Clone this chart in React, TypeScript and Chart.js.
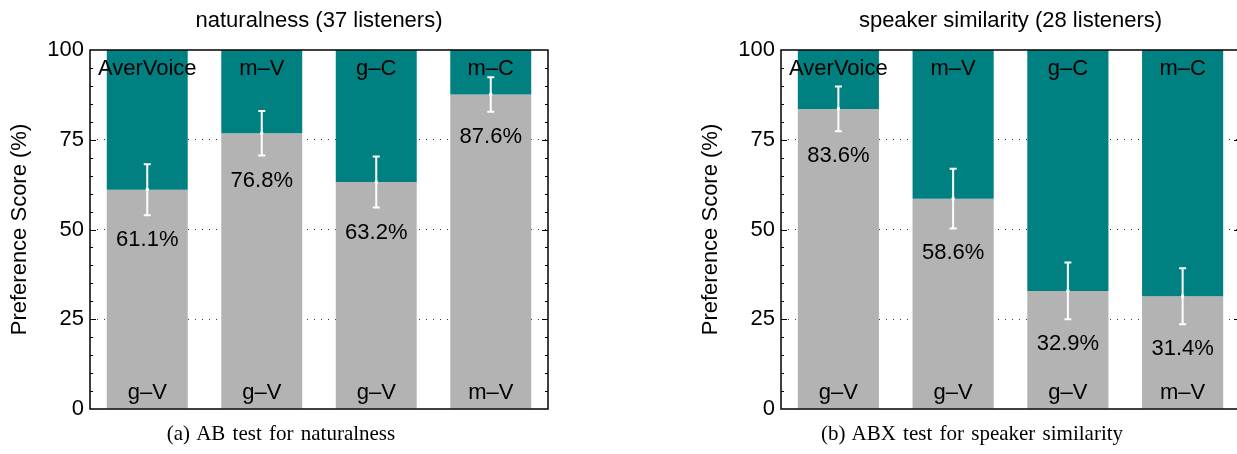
import React, { useEffect, useRef } from 'react';
import { Chart, registerables } from 'chart.js';

Chart.register(...registerables);

const FONT = '"Liberation Sans", Arial, Helvetica, sans-serif';
const SERIF = '"Liberation Serif", "Times New Roman", Times, serif';
const TEAL = '#008080';
const GRAY = '#b3b3b3';

// comparison pairs (system A on top, system B at bottom)
const pairIds = ['1', '2', '3', '4'];
const systemA = ['AverVoice', 'm–V', 'g–C', 'm–C'];
const systemB = ['g–V', 'g–V', 'g–V', 'm–V'];

// (a) naturalness, 37 listeners: preference for system B (%)
const naturalnessScores = [61.1, 76.8, 63.2, 87.6];
const naturalnessErrors = [7.1, 6.2, 7.1, 4.8];

// (b) speaker similarity, 28 listeners: preference for system B (%)
const similarityScores = [83.6, 58.6, 32.9, 31.4];
const similarityErrors = [6.2, 8.3, 7.9, 7.8];

const yTicks = [0, 25, 50, 75, 100];

const overlayPlugin = {
  id: 'overlay',
  afterDatasetsDraw(chart: any, _args: any, opts: any) {
    const { ctx, chartArea: ca } = chart;
    const y = chart.scales.y;
    const meta = chart.getDatasetMeta(0);
    const values: number[] = opts.values;
    const errors: number[] = opts.errors;
    ctx.save();
    // error bars
    ctx.strokeStyle = '#ffffff';
    ctx.fillStyle = '#ffffff';
    ctx.lineWidth = 2;
    values.forEach((v, i) => {
      const x = meta.data[i].x;
      const yt = y.getPixelForValue(v + errors[i]);
      const yb = y.getPixelForValue(v - errors[i]);
      ctx.beginPath();
      ctx.moveTo(x, yt);
      ctx.lineTo(x, yb);
      ctx.moveTo(x - 3.5, yt);
      ctx.lineTo(x + 3.5, yt);
      ctx.moveTo(x - 3.5, yb);
      ctx.lineTo(x + 3.5, yb);
      ctx.stroke();
      ctx.fillRect(x - 1.5, y.getPixelForValue(v) - 1.5, 3, 3);
    });
    // labels
    ctx.fillStyle = '#000000';
    ctx.font = `22px ${FONT}`;
    ctx.textAlign = 'center';
    ctx.textBaseline = 'middle';
    values.forEach((v, i) => {
      const x = meta.data[i].x;
      const yb = y.getPixelForValue(v - errors[i]);
      ctx.fillText(opts.top[i], x, ca.top + 19);
      ctx.fillText(opts.bottom[i], x, ca.bottom - 16);
      ctx.fillText(`${v.toFixed(1)}%`, x, yb + 25);
    });
    // frame
    ctx.strokeStyle = '#000000';
    ctx.lineWidth = 1.5;
    ctx.strokeRect(ca.left, ca.top, ca.right - ca.left, ca.bottom - ca.top);
    // inward tick marks on both sides
    ctx.lineWidth = 1;
    for (let t = 5; t < 100; t += 5) {
      const py = Math.round(y.getPixelForValue(t)) + 0.5;
      const len = t % 25 === 0 ? 6 : 3;
      ctx.beginPath();
      ctx.moveTo(ca.left, py);
      ctx.lineTo(ca.left + len, py);
      ctx.moveTo(ca.right, py);
      ctx.lineTo(ca.right - len, py);
      ctx.stroke();
    }
    ctx.restore();
  },
};

type PanelProps = {
  title: string;
  values: number[];
  errors: number[];
  left: number;
  width: number;
  padRight: number;
};

const CANVAS_H = 431;

function Panel({ title, values, errors, left, width, padRight }: PanelProps) {
  const ref = useRef<HTMLCanvasElement | null>(null);
  useEffect(() => {
    if (!ref.current) return;
    const chart = new Chart(ref.current, {
      type: 'bar',
      data: {
        labels: pairIds,
        datasets: [
          {
            label: 'B',
            data: values,
            backgroundColor: GRAY,
            borderWidth: 0,
            grouped: false,
            barPercentage: 0.707,
            categoryPercentage: 1,
            order: 2,
          } as any,
          {
            label: 'A',
            data: values.map((v) => [v, 100]),
            backgroundColor: TEAL,
            borderWidth: 0,
            grouped: false,
            barPercentage: 0.707,
            categoryPercentage: 1,
            order: 1,
          } as any,
        ],
      },
      options: {
        animation: false,
        responsive: false,
        devicePixelRatio: 1,
        layout: { padding: { left: 0, right: padRight, top: 0, bottom: 22 } },
        plugins: {
          legend: { display: false },
          tooltip: { enabled: false },
          title: {
            display: true,
            text: title,
            fullSize: false,
            color: '#000000',
            font: { family: FONT, size: 22, weight: 'normal' as any, lineHeight: 1.2 },
            padding: { top: 8, bottom: 15.6 },
          },
          overlay: { values, errors, top: systemA, bottom: systemB },
        } as any,
        scales: {
          x: { display: false, stacked: false },
          y: {
            min: 0,
            max: 100,
            afterFit: (scale: any) => {
              scale.width = 90;
            },
            afterBuildTicks: (scale: any) => {
              scale.ticks = yTicks.map((v) => ({ value: v }));
            },
            ticks: {
              color: '#000000',
              font: { family: FONT, size: 22 },
              padding: 6,
            },
            border: { display: false, dash: [1, 6] },
            grid: {
              drawTicks: false,
              lineWidth: 1,
              color: (c: any) =>
                c.tick && (c.tick.value === 0 || c.tick.value === 100) ? 'rgba(0,0,0,0)' : '#333333',
            } as any,
            title: {
              display: true,
              text: 'Preference Score (%)',
              color: '#000000',
              font: { family: FONT, size: 22, lineHeight: 1.2 },
              padding: { top: 7, bottom: 0 },
            },
          },
        },
      },
      plugins: [overlayPlugin],
    });
    return () => chart.destroy();
  }, []);
  return (
    <canvas
      ref={ref}
      width={width}
      height={CANVAS_H}
      style={{ position: 'absolute', left, top: 0, width, height: CANVAS_H }}
    />
  );
}

const captionStyle: React.CSSProperties = {
  position: 'absolute',
  width: 400,
  top: 421,
  textAlign: 'center',
  fontFamily: SERIF,
  fontSize: 21,
  lineHeight: '24px',
  wordSpacing: 2,
  color: '#000',
  whiteSpace: 'nowrap',
};

export default function App() {
  return (
    <div
      style={{
        position: 'fixed',
        left: 0,
        top: 0,
        width: 1237,
        height: 454,
        overflow: 'hidden',
        background: '#ffffff',
      }}
    >
      <Panel
        title="naturalness (37 listeners)"
        values={naturalnessScores}
        errors={naturalnessErrors}
        left={0}
        width={552}
        padRight={4}
      />
      <Panel
        title="speaker similarity (28 listeners)"
        values={similarityScores}
        errors={similarityErrors}
        left={691}
        width={552}
        padRight={3}
      />
      <div style={{ ...captionStyle, left: 81 }}>(a) AB test for naturalness</div>
      <div style={{ ...captionStyle, left: 772 }}>(b) ABX test for speaker similarity</div>
    </div>
  );
}
